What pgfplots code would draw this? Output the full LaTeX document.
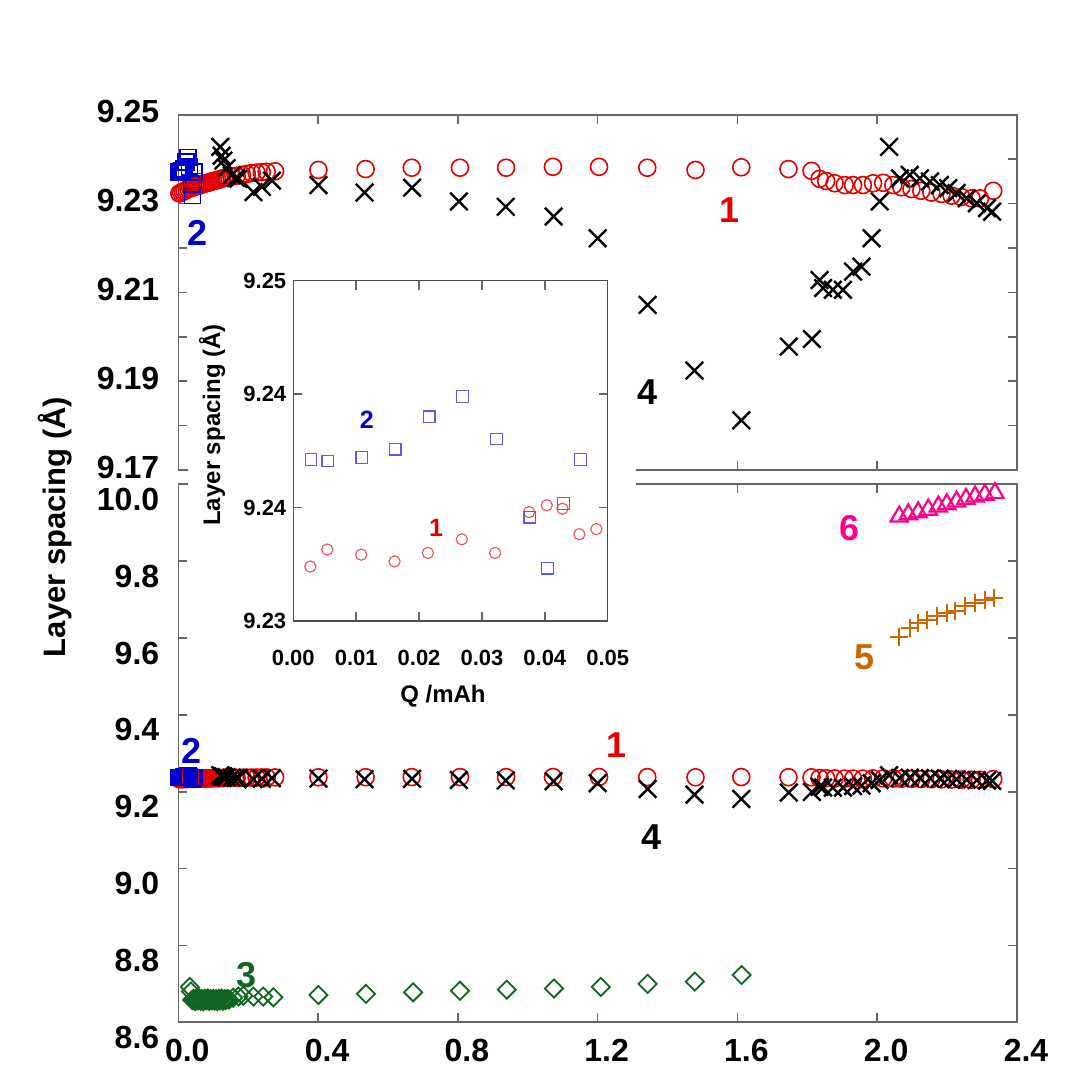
\documentclass[border=0pt]{standalone}
\usepackage{fontspec}
\setmainfont{Liberation Sans}
\usepackage{pgfplots}
\pgfplotsset{compat=1.18}
\usepackage{pgfplotstable}

\definecolor{cA}{RGB}{228,0,0}
\definecolor{cB}{RGB}{0,0,205}
\definecolor{cC}{RGB}{16,100,32}
\definecolor{cE}{RGB}{204,102,0}
\definecolor{cF}{RGB}{255,0,140}
\definecolor{ciA}{RGB}{240,80,80}
\definecolor{ciB}{RGB}{90,90,240}

\pgfplotstableread{
x y
0.003 9.2323
0.008 9.2325
0.013 9.2327
0.018 9.2329
0.024 9.2331
0.029 9.2333
0.034 9.2335
0.039 9.2336
0.044 9.2337
0.049 9.2339
0.054 9.2340
0.059 9.2341
0.064 9.2342
0.069 9.2344
0.074 9.2345
0.079 9.2346
0.084 9.2347
0.090 9.2348
0.095 9.2350
0.100 9.2351
0.106 9.2352
0.112 9.2353
0.118 9.2355
0.124 9.2356
0.131 9.2358
0.139 9.2360
0.153 9.2361
0.167 9.2363
0.182 9.2365
0.196 9.2367
0.210 9.2369
0.224 9.2370
0.239 9.2371
0.253 9.2372
0.277 9.2373
0.401 9.2376
0.536 9.2378
0.668 9.2381
0.806 9.2381
0.938 9.2381
1.072 9.2383
1.204 9.2383
1.342 9.2381
1.480 9.2376
1.611 9.2382
1.746 9.2378
1.812 9.2374
1.835 9.2356
1.854 9.2351
1.878 9.2346
1.907 9.2342
1.931 9.2342
1.959 9.2342
1.988 9.2346
2.017 9.2347
2.046 9.2342
2.069 9.2337
2.098 9.2333
2.126 9.2329
2.155 9.2325
2.184 9.2322
2.213 9.2318
2.241 9.2315
2.270 9.2312
2.294 9.2312
2.332 9.2329
}\sone

\pgfplotstableread{
x y
0.0028 9.2372
0.0055 9.2372
0.0109 9.2373
0.0162 9.2378
0.0216 9.2394
0.0269 9.2404
0.0323 9.2383
0.0376 9.2344
0.0404 9.2318
0.0430 9.2350
0.0457 9.2372
}\stwo

\pgfplotstableread{
x y
0.033 8.692
0.036 8.680
0.040 8.658
0.044 8.661
0.048 8.655
0.052 8.660
0.056 8.657
0.060 8.662
0.064 8.656
0.068 8.660
0.072 8.655
0.076 8.661
0.080 8.657
0.084 8.662
0.088 8.656
0.092 8.660
0.096 8.657
0.100 8.661
0.104 8.656
0.108 8.660
0.112 8.655
0.116 8.661
0.120 8.657
0.124 8.662
0.128 8.656
0.132 8.660
0.136 8.658
0.140 8.661
0.145 8.659
0.157 8.664
0.172 8.667
0.186 8.669
0.215 8.667
0.243 8.667
0.272 8.665
0.401 8.671
0.537 8.674
0.672 8.678
0.806 8.682
0.940 8.685
1.075 8.688
1.209 8.692
1.343 8.700
1.478 8.706
1.612 8.723
}\sthree

\pgfplotstableread{
x y
0.120 9.2428
0.124 9.2408
0.129 9.2397
0.138 9.2380
0.153 9.2364
0.165 9.2358
0.172 9.2356
0.215 9.2326
0.239 9.2338
0.268 9.2352
0.401 9.2342
0.533 9.2325
0.669 9.2336
0.803 9.2305
0.937 9.2293
1.074 9.2271
1.200 9.2222
1.343 9.2072
1.477 9.1924
1.611 9.1812
1.747 9.1978
1.813 9.1995
1.835 9.2128
1.845 9.2110
1.873 9.2106
1.902 9.2106
1.931 9.2147
1.955 9.2158
1.984 9.2222
2.007 9.2305
2.034 9.2428
2.065 9.2357
2.093 9.2365
2.122 9.2357
2.151 9.2350
2.179 9.2342
2.203 9.2335
2.227 9.2324
2.256 9.2312
2.285 9.2301
2.314 9.2290
2.329 9.2282
}\sfour

\pgfplotstableread{
x y
2.063 9.603
2.094 9.625
2.117 9.638
2.141 9.647
2.170 9.656
2.199 9.664
2.222 9.671
2.251 9.682
2.280 9.690
2.308 9.699
2.335 9.703
}\sfive

\pgfplotstableread{
x y
2.063 9.916
2.089 9.922
2.117 9.927
2.146 9.934
2.175 9.942
2.199 9.948
2.227 9.955
2.254 9.962
2.280 9.968
2.308 9.973
2.337 9.977
}\ssix

\pgfplotstableread{
x y
0.0028 9.2395
0.0055 9.2394
0.0109 9.2396
0.0162 9.2401
0.0216 9.2420
0.0269 9.2432
0.0323 9.2407
0.0376 9.2361
0.0404 9.2331
0.0430 9.2369
0.0457 9.2395
}\itwo

\pgfplotstableread{
x y
0.0027 9.2332
0.0054 9.2342
0.0108 9.2339
0.0161 9.2335
0.0214 9.2340
0.0268 9.2348
0.0321 9.2340
0.0375 9.2364
0.0403 9.2368
0.0428 9.2366
0.0455 9.2351
0.0482 9.2354
}\ione

\pgfplotsset{
  mainax/.style={
    scale only axis, width=419.35pt, anchor=south west,
    xmin=0, xmax=2.4, clip=false,
    axis line style={black!60, line width=0.8pt},
    tick style={black!60, line width=0.8pt},
    major tick length=4.5pt, minor tick length=4.5pt,
    tick align=inside,
    xtick={0,0.4,0.8,1.2,1.6,2.0,2.4},
    ticklabel style={font=\fontsize{16}{16}\selectfont\bfseries},
  },
  sA/.style={only marks, mark=o, mark size=4.25pt, color=cA, mark options={line width=0.8pt}},
  sB/.style={only marks, mark=square, mark size=4pt, color=cB, mark options={line width=0.8pt}},
  sC/.style={only marks, mark=square, mark size=3.2pt, color=cC, mark options={rotate=45, line width=0.9pt}},
  sD/.style={only marks, mark=x, mark size=6.2pt, color=black, mark options={line width=1.2pt}},
  sE/.style={only marks, mark=+, mark size=4.5pt, color=cE, mark options={line width=1pt}},
  sF/.style={only marks, mark=triangle, mark size=5pt, color=cF, mark options={line width=1.1pt}},
}
\tikzset{lab/.style={font=\fontsize{18}{18}\selectfont\bfseries}}

\begin{document}
\begin{tikzpicture}
\useasboundingbox (0pt,0pt) rectangle (540pt,540pt);

% top panel
\begin{axis}[mainax, at={(89.15pt,305pt)}, height=177.55pt,
  ymin=9.17, ymax=9.25,
  ytick={9.17,9.19,9.21,9.23,9.25},
  yticklabels={9.17,9.19,9.21,9.23,9.25},
  minor ytick={9.18,9.20,9.22,9.24},
  xticklabels={},
  yticklabel style={xshift=-6pt, yshift=1.5pt},
]
\addplot[sA] table[x=x,y=y]{\sone};
\addplot[sD] table[x=x,y=y]{\sfour};
\addplot[sB] table[x=x,y=y]{\stwo};
\node[lab, text=cA] at (axis cs:1.577,9.2286) {1};
\node[lab, text=black] at (axis cs:1.342,9.1876) {4};
\node[lab, text=cB] at (axis cs:0.056,9.2234) {2};
\end{axis}

% bottom panel
\begin{axis}[mainax, at={(89.15pt,28.85pt)}, height=269pt,
  ymin=8.6, ymax=10.0,
  ytick={8.6,8.8,9.0,9.2,9.4,9.6,9.8,10.0},
  yticklabels={8.6,8.8,9.0,9.2,9.4,9.6,9.8,10.0},
  xticklabels={0.0,0.4,0.8,1.2,1.6,2.0,2.4},
  yticklabel style={xshift=-6pt, yshift=-7.5pt},
  xticklabel style={xshift=4.5pt, yshift=-5pt},
]
\addplot[sC] table[x=x,y=y]{\sthree};
\addplot[sA] table[x=x,y=y]{\sone};
\addplot[sD] table[x=x,y=y]{\sfour};
\addplot[sB] table[x=x,y=y]{\stwo};
\addplot[sE] table[x=x,y=y]{\sfive};
\addplot[sF] table[x=x,y=y]{\ssix};
\node[lab, text=cF] at (axis cs:1.922,9.885) {6};
\node[lab, text=cE] at (axis cs:1.965,9.551) {5};
\node[lab, text=cA] at (axis cs:1.254,9.322) {1};
\node[lab, text=black] at (axis cs:1.354,9.083) {4};
\node[lab, text=cB] at (axis cs:0.038,9.306) {2};
\node[lab, text=cC] at (axis cs:0.194,8.723) {3};
\end{axis}

\node[rotate=90, font=\fontsize{15.5}{15.5}\selectfont\bfseries] at (27.5pt,276.5pt) {Layer spacing (Å)};

% inset
\fill[white] (94pt,184pt) rectangle (318pt,409pt);
\begin{axis}[at={(146.65pt,229.5pt)}, anchor=south west, scale only axis,
  width=157.2pt, height=170.15pt,
  xmin=0, xmax=0.05, ymin=9.23, ymax=9.25, clip=false,
  scaled x ticks=false, scaled y ticks=false,
  axis line style={black!70, line width=0.7pt},
  tick style={black!60, line width=0.7pt},
  major tick length=4.5pt, tick align=inside,
  xtick={0,0.01,0.02,0.03,0.04,0.05},
  xticklabels={0.00,0.01,0.02,0.03,0.04,0.05},
  ytick={9.23,9.236667,9.243333,9.25},
  yticklabels={9.23,9.24,9.24,9.25},
  ticklabel style={font=\fontsize{11}{11}\selectfont\bfseries},
  xticklabel style={yshift=-11pt},
]
\addplot[only marks, mark=o, mark size=2.8pt, color=ciA, mark options={line width=0.55pt}] table[x=x,y=y]{\ione};
\addplot[only marks, mark=square, mark size=2.9pt, color=ciB, mark options={line width=0.6pt}] table[x=x,y=y]{\itwo};
\node[font=\fontsize{12.5}{12.5}\selectfont\bfseries, text=cB] at (axis cs:0.0117,9.2418) {2};
\node[font=\fontsize{12.5}{12.5}\selectfont\bfseries, text=cA] at (axis cs:0.0227,9.2355) {1};
\end{axis}
\node[rotate=90, font=\fontsize{12}{12}\selectfont\bfseries] at (106pt,327.5pt) {Layer spacing (Å)};
\node[font=\fontsize{12}{12}\selectfont\bfseries] at (221.5pt,191.7pt) {Q /mAh};
\end{tikzpicture}
\end{document}
